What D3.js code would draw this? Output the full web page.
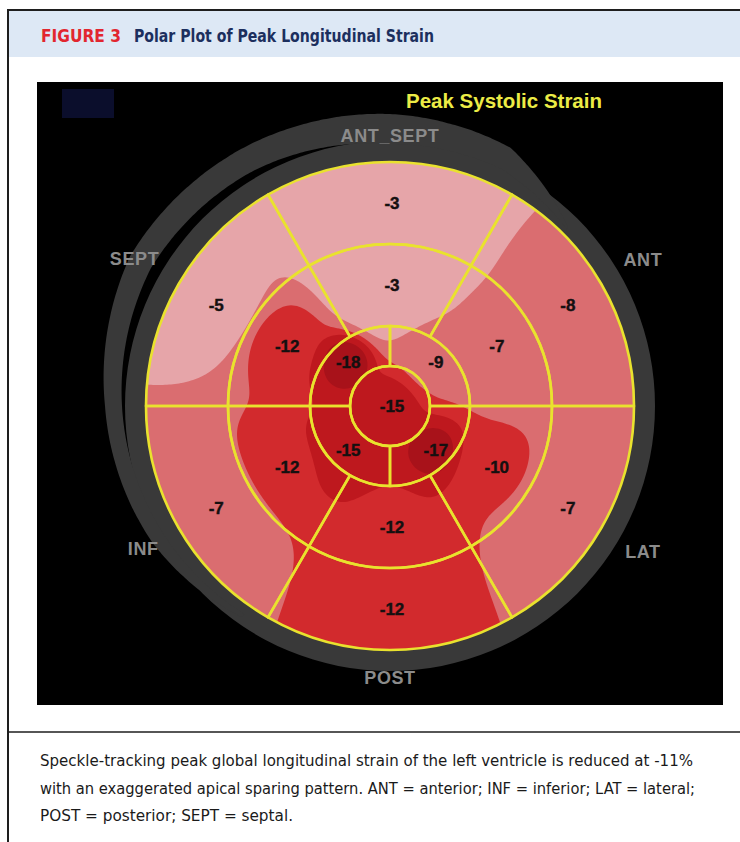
<!DOCTYPE html>
<html>
<head>
<meta charset="utf-8">
<script src="https://cdn.jsdelivr.net/npm/d3@7"></script>
<style>
  body { margin: 0; background: #fff; }
  svg { display: block; }
</style>
</head>
<body>
<svg id="fig" width="740" height="842"></svg>
<script>
// ---- Data: peak systolic longitudinal strain (%) per LV segment ----
// Basal and mid rings: six segments, clockwise from the top (anteroseptal)
const wallNames   = ["ANT_SEPT", "ANT", "LAT", "POST", "INF", "SEPT"];
const basalValues = [-3, -8, -7, -12, -7, -5];
const midValues   = [-3, -7, -10, -12, -12, -12];
// Apical ring: four quadrants, clockwise from the top-right
const apicalValues = [-9, -17, -15, -18];
const apexValue    = -15;
// Colour bands of strain magnitude (|%|), light to dark
const bandThresholds = [6, 9.5, 12.5, 16];
const bandColors     = ["#e6a5a9", "#da6d70", "#d22a2d", "#be181e", "#a8121a"];

const captionLines = [
  "Speckle-tracking peak global longitudinal strain of the left ventricle is reduced at -11%",
  "with an exaggerated apical sparing pattern. ANT = anterior; INF = inferior; LAT = lateral;",
  "POST = posterior; SEPT = septal."
];

// ---- Layout ----
const W = 740, H = 842;
const cx = 390, cy = 406;
const rApex = 40, rApical = 80, rMid = 162, rBasal = 244;
const rad = d => d * Math.PI / 180;

const svg = d3.select("#fig");

// Figure frame, header band and caption area
svg.append("rect").attr("x", 0).attr("y", 0).attr("width", W).attr("height", H).attr("fill", "#fff");
svg.append("rect").attr("x", 9).attr("y", 11).attr("width", W - 9).attr("height", 46).attr("fill", "#dde8f5");
svg.append("line").attr("x1", 7).attr("x2", W).attr("y1", 10).attr("y2", 10)
  .attr("stroke", "#1e1e1e").attr("stroke-width", 2);
svg.append("line").attr("x1", 8).attr("x2", 8).attr("y1", 9).attr("y2", H)
  .attr("stroke", "#1e1e1e").attr("stroke-width", 2);
svg.append("line").attr("x1", 8).attr("x2", W).attr("y1", 732).attr("y2", 732)
  .attr("stroke", "#1e1e1e").attr("stroke-width", 1.5);

const headFont = "'Liberation Sans Narrow', 'DejaVu Sans Condensed', 'Roboto Condensed', Roboto, sans-serif";
svg.append("text").attr("x", 41).attr("y", 42)
  .attr("font-family", headFont).attr("font-weight", 700).attr("font-size", 17)
  .attr("fill", "#e2262f").attr("textLength", 80).attr("lengthAdjust", "spacingAndGlyphs")
  .text("FIGURE 3");
svg.append("text").attr("x", 134).attr("y", 42)
  .attr("font-family", headFont).attr("font-weight", 700).attr("font-size", 17)
  .attr("fill", "#1c2f5e").attr("textLength", 300).attr("lengthAdjust", "spacingAndGlyphs")
  .text("Polar Plot of Peak Longitudinal Strain");

const capWidths = [653, 655, 253];
svg.append("g").selectAll("text").data(captionLines).join("text")
  .attr("x", 40).attr("y", (d, i) => 766 + i * 27.5)
  .attr("font-family", headFont).attr("font-size", 16.5).attr("fill", "#1a1a1a")
  .attr("textLength", (d, i) => capWidths[i]).attr("lengthAdjust", "spacingAndGlyphs")
  .text(d => d);

// ---- Black echo panel ----
svg.append("rect").attr("x", 37).attr("y", 82).attr("width", 686).attr("height", 623).attr("fill", "#000");
svg.append("rect").attr("x", 62).attr("y", 89).attr("width", 52).attr("height", 29).attr("fill", "#0b0e2c");

svg.append("text").attr("x", 504).attr("y", 108).attr("text-anchor", "middle")
  .attr("font-family", "'Liberation Sans', Arial, sans-serif").attr("font-weight", 700)
  .attr("font-size", 20.5).attr("fill", "#ecec46")
  .text("Peak Systolic Strain");

const g = svg.append("g").attr("transform", `translate(${cx},${cy})`);

// Gray orientation ring and the outer sweep on the septal side
g.append("path")
  .attr("d", d3.arc()({ innerRadius: rBasal, outerRadius: 265, startAngle: 0, endAngle: 2 * Math.PI }))
  .attr("fill", "#393939");
const sweepAngles = [45, 25, 0, -30, -60, -90, -120, -145];
const sweepIn  = d3.scaleLinear().domain(sweepAngles).range([250, 262, 262, 272, 276, 268, 260, 254]);
const sweepOut = d3.scaleLinear().domain(sweepAngles).range([252, 285, 292, 297, 300, 285, 274, 258]);
const sweepSteps = d3.range(45, -145.5, -1);
g.append("path")
  .attr("d", d3.areaRadial()
    .angle(a => rad(a))
    .innerRadius(a => sweepIn(a))
    .outerRadius(a => sweepOut(a))
    .curve(d3.curveCatmullRom)(sweepSteps))
  .attr("fill", "#393939");

// Wall labels around the plot
const wallAngles = [0, 60, 120, 180, 240, 300];
const wallRadius = [270, 292, 292, 272, 285, 295];
g.append("g").selectAll("text").data(wallNames).join("text")
  .attr("x", (d, i) => wallRadius[i] * Math.sin(rad(wallAngles[i])))
  .attr("y", (d, i) => -wallRadius[i] * Math.cos(rad(wallAngles[i])) + 6)
  .attr("text-anchor", "middle")
  .attr("font-family", "'Liberation Sans', Arial, sans-serif").attr("font-weight", 700)
  .attr("font-size", 18).attr("letter-spacing", 0.6).attr("fill", "#8b8b8b")
  .text(d => d);

// ---- Segment centroids (value samples for the colour field) ----
const segRadius = { basal: (rMid + rBasal) / 2, mid: (rApical + rMid) / 2, apical: (rApex + rApical) / 2 + 2 };
const samples = [];
basalValues.forEach((v, i) => samples.push({ a: i * 60, r: segRadius.basal, v }));
midValues.forEach((v, i) => samples.push({ a: i * 60, r: segRadius.mid, v }));
apicalValues.forEach((v, i) => samples.push({ a: 45 + i * 90, r: segRadius.apical, v }));
samples.push({ a: 0, r: 0, v: apexValue });
samples.forEach(s => { s.x = s.r * Math.sin(rad(s.a)); s.y = -s.r * Math.cos(rad(s.a)); });

// Inverse-distance weighted strain field on a pixel grid; less-deformed
// segments get a little more weight so their colour spreads further.
const step = 2;
const n = Math.ceil((2 * rBasal) / step) + 2;
const x0 = -rBasal - step, y0 = -rBasal - step;
const field = new Float64Array(n * n);
const bias = v => Math.exp(0.2 * v);
for (let j = 0; j < n; j++) {
  for (let i = 0; i < n; i++) {
    const px = x0 + (i + 0.5) * step, py = y0 + (j + 0.5) * step;
    let ws = 0, vs = 0, hit = null;
    for (const s of samples) {
      const d2 = (px - s.x) ** 2 + (py - s.y) ** 2;
      if (d2 < 1e-6) { hit = s.v; break; }
      const w = bias(s.v) / (d2 * d2);
      ws += w; vs += w * s.v;
    }
    field[j * n + i] = -(hit !== null ? hit : vs / ws);
  }
}

const clipId = "bullseyeClip";
svg.append("defs").append("clipPath").attr("id", clipId)
  .append("circle").attr("r", rBasal);

const fieldG = g.append("g").attr("clip-path", `url(#${clipId})`);
fieldG.append("circle").attr("r", rBasal).attr("fill", bandColors[0]);
const contours = d3.contours().size([n, n]).thresholds(bandThresholds)(Array.from(field));
const proj = d3.geoPath(d3.geoIdentity().scale(step).translate([x0, y0]));
fieldG.selectAll("path").data(contours).join("path")
  .attr("d", proj)
  .attr("fill", (d, i) => bandColors[i + 1]);

// ---- Segment outlines (17-segment bull's-eye) ----
const arc = d3.arc();
const outlines = [];
wallAngles.forEach(a => {
  outlines.push({ innerRadius: rMid, outerRadius: rBasal, startAngle: rad(a - 30), endAngle: rad(a + 30) });
  outlines.push({ innerRadius: rApical, outerRadius: rMid, startAngle: rad(a - 30), endAngle: rad(a + 30) });
});
apicalValues.forEach((v, i) => outlines.push({ innerRadius: rApex, outerRadius: rApical, startAngle: rad(i * 90), endAngle: rad(i * 90 + 90) }));
outlines.push({ innerRadius: 0, outerRadius: rApex, startAngle: 0, endAngle: 2 * Math.PI });
g.append("g").selectAll("path").data(outlines).join("path")
  .attr("d", arc).attr("fill", "none")
  .attr("stroke", "#e9e22e").attr("stroke-width", 2.6).attr("stroke-linejoin", "round");

// ---- Segment value labels ----
const labelFont = "'Liberation Sans', Arial, sans-serif";
g.append("g").selectAll("text").data(samples).join("text")
  .attr("x", s => s.x + 2)
  .attr("y", s => s.y + 6)
  .attr("text-anchor", "middle")
  .attr("font-family", labelFont).attr("font-weight", 700).attr("font-size", 17)
  .attr("fill", "#151010").attr("stroke", "#151010").attr("stroke-width", 0.4)
  .text(s => s.v);
</script>
</body>
</html>
